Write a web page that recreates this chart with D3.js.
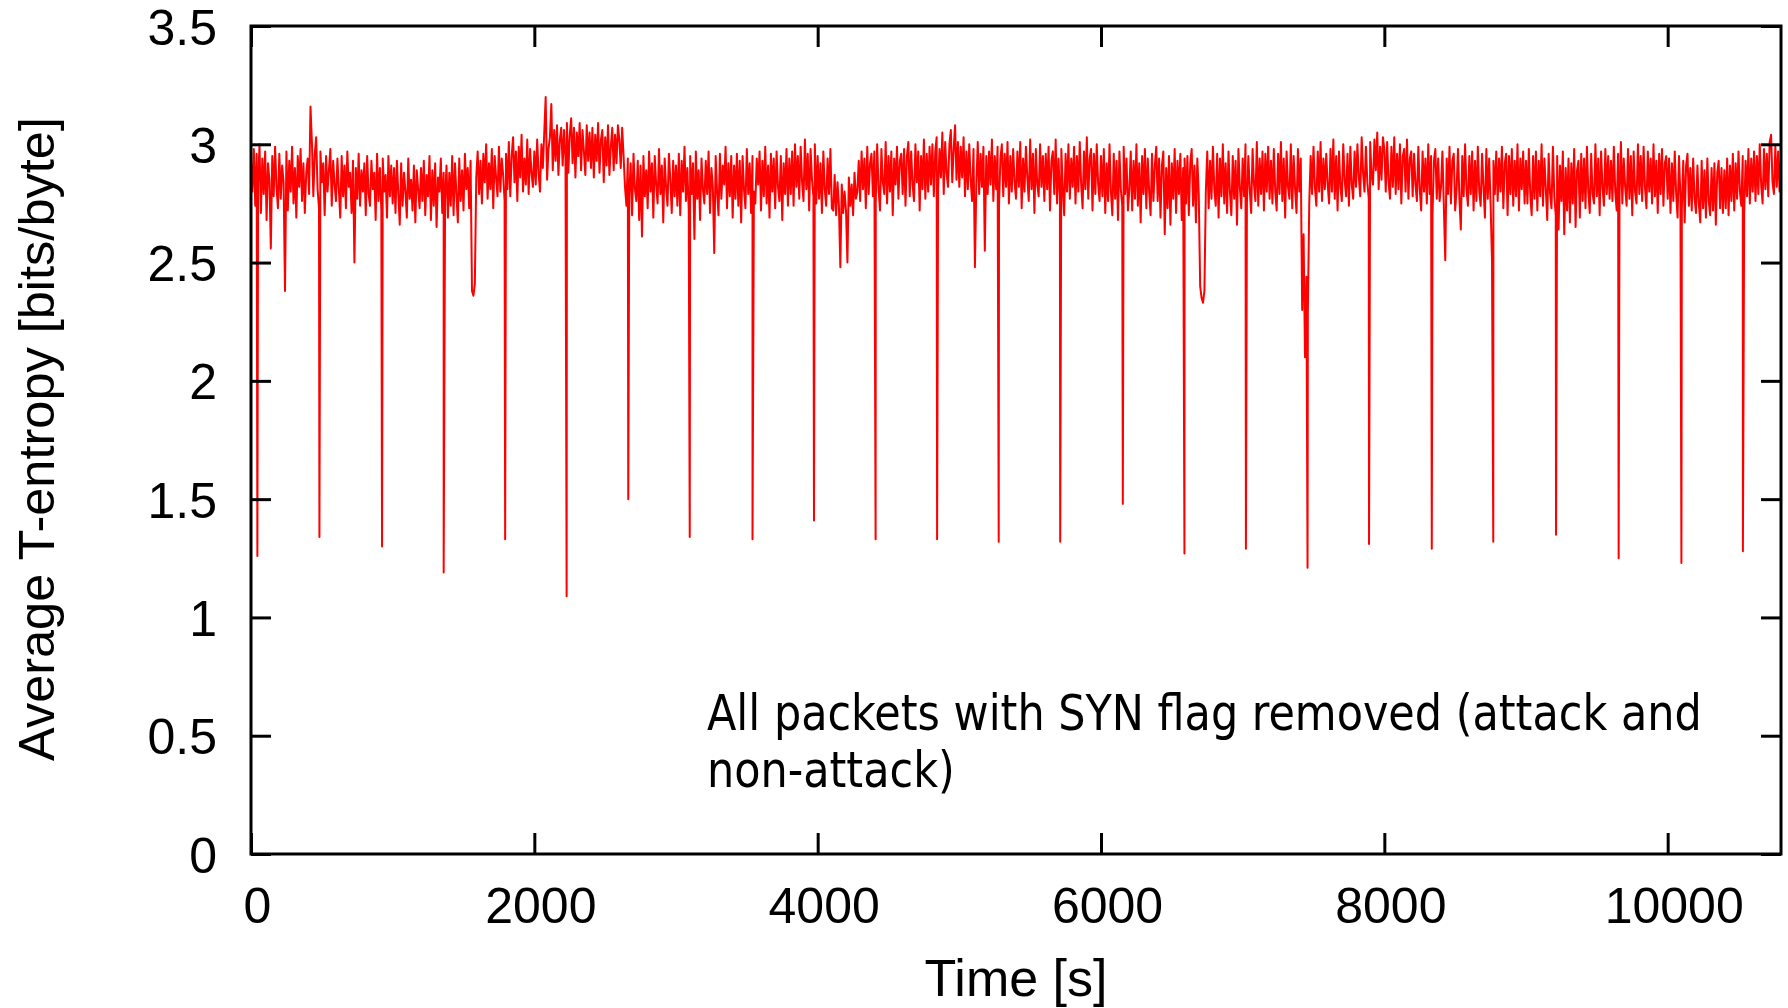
<!DOCTYPE html>
<html>
<head>
<meta charset="utf-8">
<script src="https://cdn.jsdelivr.net/npm/d3@7"></script>
<style>
  html, body { margin: 0; padding: 0; background: #fff; }
  svg { display: block; }
</style>
</head>
<body>
<svg id="chart" width="1788" height="1008"></svg>
<script>
// ---------------- DATA ----------------
const xTickValues = [0, 2000, 4000, 6000, 8000, 10000];
const yTickValues = [0, 0.5, 1, 1.5, 2, 2.5, 3, 3.5];
const xTitle = "Time [s]";
const yTitle = "Average T-entropy [bits/byte]";
const noteLines = ["All packets with SYN flag removed (attack and", "non-attack)"];

const bandStep = 10;
const entropy = [
2.93,2.80,2.98,2.74,2.96,2.83,3.00,2.71,2.94,2.79,2.97,2.68,2.92,2.85,2.56,2.95,2.78,2.99,2.82,2.73,
2.96,2.77,2.91,2.84,2.38,2.97,2.72,2.93,2.80,2.99,2.75,2.90,2.69,2.95,2.82,2.98,2.76,2.92,2.71,2.88,
2.94,2.79,3.16,3.01,2.78,2.96,3.03,2.81,2.73,2.97,2.84,2.92,2.70,2.95,2.80,2.89,2.98,2.74,2.93,2.83,
2.76,2.94,2.81,2.69,2.95,2.78,2.91,2.73,2.97,2.82,2.88,2.71,2.93,2.50,2.90,2.77,2.96,2.74,2.89,2.80,
2.92,2.70,2.95,2.79,2.74,2.93,2.81,2.88,2.68,2.96,2.76,2.90,2.72,2.94,2.80,2.87,2.69,2.95,2.78,2.91,
2.75,2.90,2.71,2.93,2.79,2.66,2.92,2.74,2.88,2.80,2.69,2.94,2.77,2.85,2.72,2.91,2.67,2.89,2.81,2.73,
2.90,2.76,2.93,2.70,2.87,2.78,2.95,2.68,2.89,2.74,2.92,2.65,2.86,2.80,2.94,2.71,2.88,2.77,2.91,2.69,
2.88,2.74,2.95,2.70,2.92,2.79,2.67,2.94,2.76,2.89,2.72,2.96,2.81,2.90,2.73,2.93,2.38,2.36,2.41,2.86,
2.97,2.79,2.93,2.75,2.96,2.84,3.00,2.77,2.92,2.81,2.98,2.73,2.95,2.86,2.78,2.99,2.80,2.94,2.87,2.76,
2.96,2.81,3.01,2.78,2.95,3.03,2.84,2.97,2.76,2.99,2.86,3.04,2.80,2.94,2.83,3.02,2.79,2.98,2.88,2.82,
2.97,2.83,3.02,2.88,2.80,3.00,2.90,3.05,3.20,2.85,2.98,3.03,3.17,2.89,3.06,2.93,3.08,2.87,3.02,3.07,
2.91,3.06,2.94,3.09,2.88,3.04,3.11,2.92,3.07,2.86,3.05,2.95,3.09,2.89,3.06,2.97,2.87,3.08,2.93,3.05,
2.90,3.07,2.86,3.04,2.93,3.09,2.88,3.02,3.06,2.84,3.03,2.91,3.08,2.87,2.99,3.07,2.89,3.04,2.92,3.08,
3.02,2.90,3.07,2.95,2.82,2.74,2.94,2.79,2.92,2.70,2.96,2.81,2.76,2.93,2.68,2.91,2.61,2.95,2.78,2.89,
2.73,2.97,2.80,2.92,2.69,2.95,2.83,2.75,2.98,2.79,2.91,2.67,2.94,2.82,2.74,2.96,2.85,2.71,2.93,2.78,
2.91,2.74,2.96,2.70,2.93,2.80,2.99,2.76,2.90,2.72,2.95,2.79,2.92,2.60,2.97,2.77,2.89,2.68,2.94,2.81,
2.75,2.93,2.79,2.97,2.71,2.90,2.82,2.54,2.95,2.80,2.70,2.96,2.77,2.91,2.83,2.99,2.73,2.92,2.78,2.95,
2.69,2.91,2.77,2.96,2.74,2.93,2.67,2.95,2.81,2.73,2.98,2.79,2.92,2.71,2.95,2.80,2.75,2.94,2.83,2.97,
2.72,2.93,2.78,2.99,2.75,2.91,2.69,2.96,2.80,2.94,2.73,2.97,2.82,2.76,2.95,2.68,2.92,2.79,2.98,2.74,
2.94,2.79,2.97,2.74,3.00,2.82,2.95,2.77,2.99,2.84,2.76,3.02,2.81,2.96,2.72,2.98,2.85,2.78,3.00,2.75,
2.95,2.77,2.92,2.71,2.97,2.81,2.74,2.94,2.79,2.98,2.73,2.72,2.87,2.70,2.84,2.74,2.48,2.83,2.71,2.80,
2.72,2.50,2.86,2.74,2.83,2.70,2.88,2.77,2.80,2.93,2.76,2.97,2.81,2.94,2.73,2.99,2.79,2.92,2.96,2.78,
2.97,2.76,3.00,2.81,2.72,2.98,2.84,2.79,3.01,2.75,2.95,2.80,2.97,2.70,2.94,2.83,2.99,2.77,2.93,2.96,
2.79,2.98,2.74,2.95,3.01,2.78,2.97,2.83,2.76,3.00,2.84,2.97,2.72,2.95,2.81,3.02,2.77,2.96,2.80,2.99,
2.83,3.00,2.78,2.97,3.03,2.81,2.98,2.86,3.05,2.79,3.01,2.88,2.82,3.00,3.06,2.84,2.98,3.08,2.85,3.01,
2.82,2.99,2.86,3.03,2.78,2.97,2.81,3.00,2.85,2.76,2.98,2.48,2.83,3.01,2.79,2.96,2.82,2.99,2.55,2.95,
2.79,2.97,2.83,3.02,2.76,2.95,2.81,2.99,2.74,2.94,3.00,2.78,2.96,2.82,3.01,2.75,2.95,2.80,2.98,2.84,
2.77,2.97,2.82,3.01,2.73,2.94,2.80,2.99,2.86,2.76,3.02,2.81,2.96,2.71,2.98,2.83,2.78,3.00,2.82,2.95,
2.76,2.96,2.81,2.99,2.72,2.93,2.97,2.79,3.02,2.75,2.94,2.78,2.98,2.82,2.70,2.96,2.80,3.00,2.77,2.94,
2.82,2.99,2.75,2.95,2.80,3.01,2.83,2.73,2.97,2.81,3.03,2.77,2.94,2.98,2.72,2.96,2.79,3.00,2.83,2.76,
2.95,2.78,2.98,2.71,2.92,2.76,3.00,2.80,2.70,2.96,2.77,2.93,2.68,2.97,2.81,2.74,2.99,2.79,2.94,2.72,
2.81,2.97,2.72,2.93,2.77,3.00,2.74,2.92,2.67,2.95,2.79,2.98,2.73,2.94,2.80,2.70,2.96,2.76,2.91,2.99,
2.76,2.94,2.69,2.91,2.97,2.62,2.90,2.73,2.95,2.66,2.92,2.77,2.98,2.71,2.93,2.79,2.96,2.68,2.90,2.94,
2.75,2.95,2.70,2.92,2.98,2.74,2.91,2.67,2.94,2.79,2.40,2.35,2.33,2.38,2.80,2.97,2.73,2.93,2.77,2.99,
2.81,2.74,2.96,2.69,2.94,2.78,3.00,2.75,2.92,2.71,2.97,2.80,2.70,2.95,2.77,2.93,2.66,2.98,2.82,2.73,
2.94,2.78,3.00,2.75,2.95,2.81,2.71,2.98,2.83,2.76,3.01,2.74,2.94,2.79,2.97,2.72,2.96,2.80,2.99,2.77,
2.93,2.75,2.98,2.80,2.72,2.96,2.79,3.01,2.76,2.94,2.69,2.97,2.82,2.77,3.00,2.73,2.95,2.81,2.71,2.98,
2.80,2.94,2.30,2.62,2.10,2.44,2.28,2.75,2.95,2.79,2.99,2.82,2.74,2.97,2.80,3.01,2.76,2.94,2.81,2.96,
2.83,2.75,2.98,2.80,3.02,2.77,2.95,2.72,2.97,2.82,2.76,3.00,2.85,2.78,2.96,2.74,2.99,2.83,2.77,2.97,
2.82,3.00,2.86,2.78,3.03,2.88,2.80,2.99,2.84,2.77,3.01,2.87,2.83,3.02,2.89,3.05,2.81,2.99,2.85,3.03,
2.98,2.80,3.01,2.84,2.77,2.99,2.82,3.03,2.79,2.96,2.81,3.00,2.75,2.95,2.98,2.80,3.02,2.77,2.94,2.97,
2.78,2.96,2.83,2.76,2.99,2.81,2.72,2.97,2.80,2.94,2.75,3.00,2.79,2.95,2.70,2.93,2.98,2.77,2.94,2.76,
2.82,2.97,2.74,2.51,2.94,2.79,2.99,2.75,2.93,2.96,2.72,2.81,2.98,2.77,2.64,2.95,2.78,3.00,2.81,2.74,
2.95,2.79,2.97,2.72,2.93,2.76,2.99,2.80,2.74,2.96,2.82,2.69,2.98,2.77,2.94,2.75,2.51,2.93,2.79,2.97,
2.76,2.94,2.80,2.99,2.73,2.92,2.96,2.70,2.95,2.79,2.98,2.74,2.93,2.78,3.00,2.72,2.94,2.81,2.97,2.75,
2.93,2.75,2.98,2.79,2.70,2.95,2.77,2.97,2.72,2.93,2.78,3.00,2.74,2.94,2.81,2.68,2.96,2.79,2.73,2.99,
2.78,2.70,2.95,2.64,2.91,2.76,2.97,2.62,2.90,2.72,2.94,2.67,2.92,2.75,2.98,2.65,2.89,2.93,2.69,2.96,
2.76,2.94,2.73,2.99,2.80,2.71,2.96,2.79,2.75,3.00,2.78,2.94,2.70,2.97,2.82,2.74,2.98,2.79,2.95,2.77,
2.93,2.76,2.99,2.80,2.72,2.96,2.78,3.01,2.75,2.94,2.82,2.74,2.98,2.77,2.95,2.70,2.97,2.80,2.75,3.00,
2.79,2.95,2.76,2.99,2.82,2.73,2.97,2.80,2.94,2.75,3.00,2.78,2.93,2.71,2.96,2.79,2.98,2.74,2.92,2.95,
2.77,2.94,2.71,2.92,2.76,2.97,2.79,2.69,2.95,2.78,2.73,2.93,2.67,2.91,2.96,2.74,2.90,2.72,2.94,2.77,
2.71,2.91,2.75,2.67,2.93,2.73,2.89,2.69,2.94,2.76,2.70,2.90,2.72,2.92,2.66,2.88,2.93,2.73,2.90,2.71,
2.89,2.73,2.94,2.70,2.91,2.76,2.96,2.72,2.92,2.77,2.97,2.80,2.74,2.95,2.71,2.93,2.78,2.98,2.75,2.94,
2.80,2.97,2.76,2.95,2.79,3.00,2.83,2.75,2.98,2.81,2.96,2.78,3.01,3.04,2.84,2.79,2.99,2.82,2.97,2.80,
2.94
];

// periodic deep drops (time [s], value)
const dipTimes  = [45, 483, 925, 1360, 1794, 2228, 2663, 3097, 3540, 3974, 4409, 4843, 5278,
                   5712, 6154, 6589, 7023, 7458, 7892, 8335, 8769, 9212, 9654, 10097, 10531];
const dipValues = [1.26, 1.34, 1.30, 1.19, 1.33, 1.09, 1.50, 1.34, 1.33, 1.41, 1.33, 1.33, 1.32,
                   1.32, 1.48, 1.27, 1.29, 1.21, 1.31, 1.29, 1.32, 1.35, 1.25, 1.23, 1.28];

// ---------------- CHART ----------------
const svg = d3.select("#chart");
const plotL = 251, plotR = 1781, plotT = 26, plotB = 854;
const font = "'Liberation Sans', Arial, Helvetica, sans-serif";

const x = d3.scaleLinear().domain([0, 10800]).range([plotL, plotR]);
const y = d3.scaleLinear().domain([0, 3.5]).range([plotB, plotT]);

const points = entropy.map((v, i) => ({ t: i * bandStep, v }))
  .concat(dipTimes.map((t, i) => ({ t, v: dipValues[i] })))
  .sort((a, b) => a.t - b.t);

svg.append("defs").append("clipPath").attr("id", "plotclip")
  .append("rect").attr("x", plotL).attr("y", plotT).attr("width", plotR - plotL).attr("height", plotB - plotT);

const line = d3.line().x(d => x(d.t)).y(d => y(d.v));
svg.append("path")
  .datum(points)
  .attr("clip-path", "url(#plotclip)")
  .attr("d", line)
  .attr("fill", "none")
  .attr("stroke", "#ff0000")
  .attr("stroke-width", 2)
  .attr("stroke-linejoin", "round");

// axes with inward ticks (mirrored on top and right)
function styleAxis(g) {
  g.select(".domain").remove();
  g.selectAll(".tick line").attr("stroke", "#000").attr("stroke-width", 3);
  g.selectAll(".tick text").attr("fill", "#000").style("font-family", font).style("font-size", "50px");
}

const gx = svg.append("g").attr("transform", `translate(0,${plotB})`)
  .call(d3.axisBottom(x).tickValues(xTickValues).tickFormat(d3.format("d")).tickSizeInner(-21).tickSizeOuter(0))
  .call(styleAxis);
gx.selectAll(".tick text").attr("x", 6).attr("y", 69).attr("dy", 0);

svg.append("g").attr("transform", `translate(0,${plotT})`)
  .call(d3.axisTop(x).tickValues(xTickValues).tickFormat("").tickSizeInner(-21).tickSizeOuter(0))
  .call(styleAxis);

const gy = svg.append("g").attr("transform", `translate(${plotL},0)`)
  .call(d3.axisLeft(y).tickValues(yTickValues).tickFormat(d3.format("~g")).tickSizeInner(-20).tickSizeOuter(0).tickPadding(34))
  .call(styleAxis);
gy.selectAll(".tick text").attr("x", -34).attr("dy", "0.36em");

svg.append("g").attr("transform", `translate(${plotR},0)`)
  .call(d3.axisRight(y).tickValues(yTickValues).tickFormat("").tickSizeInner(-20).tickSizeOuter(0))
  .call(styleAxis);

// frame
svg.append("rect")
  .attr("x", plotL).attr("y", plotT).attr("width", plotR - plotL).attr("height", plotB - plotT)
  .attr("fill", "none").attr("stroke", "#000").attr("stroke-width", 3);

// titles
svg.append("text")
  .attr("x", (plotL + plotR) / 2).attr("y", 996)
  .attr("text-anchor", "middle")
  .style("font-family", font).style("font-size", "52px")
  .text(xTitle);

svg.append("text")
  .attr("transform", "translate(54,439) rotate(-90)")
  .attr("text-anchor", "middle")
  .style("font-family", font).style("font-size", "50.5px")
  .text(yTitle);

// annotation
const note = svg.append("g").attr("transform", "translate(707,0)");
const noteText = note.selectAll("text").data(noteLines).join("text")
  .attr("x", 0)
  .attr("y", (d, i) => 730 + i * 57)
  .style("font-family", "'DejaVu Sans Condensed', 'DejaVu Sans', sans-serif")
  .style("font-stretch", "condensed")
  .style("font-size", "50px")
  .attr("fill", "#000")
  .text(d => d);
const w0 = noteText.nodes()[0].getComputedTextLength();
const sx = 995 / w0;
note.attr("transform", `translate(707,0) scale(${sx},1)`);
</script>
</body>
</html>
